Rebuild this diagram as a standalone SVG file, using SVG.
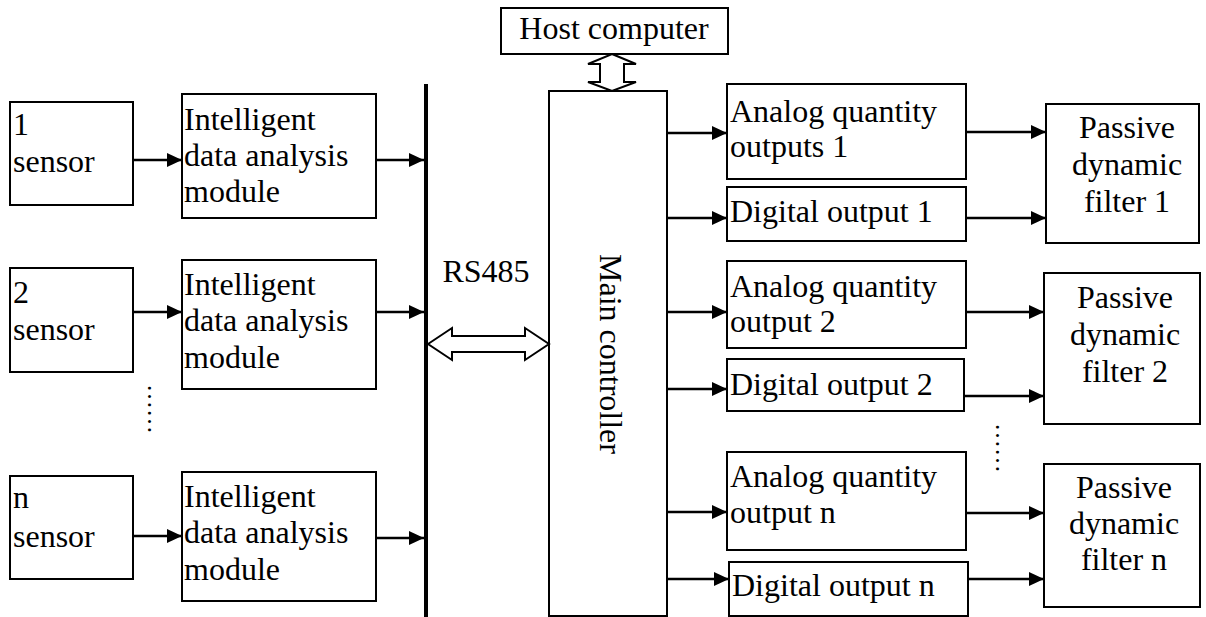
<svg xmlns="http://www.w3.org/2000/svg" width="1206" height="617" viewBox="0 0 1206 617">
<style>
.box{fill:#fff;stroke:#000;stroke-width:2}
.t{font-family:"Liberation Serif","Times New Roman",serif;font-size:32px;fill:#000}
.c{text-anchor:middle}
.ln{stroke:#000;stroke-width:2.5;fill:none;marker-end:url(#ah)}
.dbl{fill:#fff;stroke:#000;stroke-width:2}
</style>
<defs>
<marker id="ah" viewBox="0 0 15 14" refX="15" refY="7" markerWidth="15" markerHeight="14" markerUnits="userSpaceOnUse" orient="auto">
<path d="M0,0 L15,7 L0,14 z" fill="#000"/>
</marker>
</defs>
<rect width="1206" height="617" fill="#fff"/>

<g id="bus">
<line x1="426" y1="84" x2="426" y2="617" stroke="#000" stroke-width="4"/>
<text class="t c" x="486" y="282">RS485</text>
</g>

<g id="sensor1"><rect class="box" x="10" y="102" width="123" height="103"/><text class="t" x="13" y="135">1</text><text class="t" x="13" y="172">sensor</text></g>
<g id="sensor2"><rect class="box" x="10" y="268" width="123" height="104"/><text class="t" x="13" y="303">2</text><text class="t" x="13" y="340">sensor</text></g>
<g id="sensorN"><rect class="box" x="10" y="476" width="123" height="103"/><text class="t" x="13" y="508">n</text><text class="t" x="13" y="547">sensor</text></g>

<g id="module1"><rect class="box" x="182" y="94" width="194" height="124"/><text class="t" x="184" y="130">Intelligent</text><text class="t" x="184" y="166">data analysis</text><text class="t" x="184" y="202">module</text></g>
<g id="module2"><rect class="box" x="182" y="260" width="194" height="129"/><text class="t" x="184" y="295">Intelligent</text><text class="t" x="184" y="331">data analysis</text><text class="t" x="184" y="368">module</text></g>
<g id="moduleN"><rect class="box" x="182" y="472" width="194" height="129"/><text class="t" x="184" y="507">Intelligent</text><text class="t" x="184" y="543">data analysis</text><text class="t" x="184" y="580">module</text></g>

<g id="dotsLeft"><text class="t c" font-size="25" transform="translate(147.5,409) rotate(90)" style="font-size:25px">……</text></g>

<g id="host"><rect class="box" x="501" y="8" width="227" height="46"/><text class="t c" x="614" y="39">Host computer</text></g>

<g id="main"><rect class="box" x="549" y="91" width="118" height="525"/><text class="t c" transform="translate(600,354) rotate(90)">Main controller</text></g>

<g id="analog1"><rect class="box" x="727" y="84" width="239" height="95"/><text class="t" x="730" y="122">Analog quantity</text><text class="t" x="730" y="157">outputs 1</text></g>
<g id="digital1"><rect class="box" x="727" y="187" width="239" height="54"/><text class="t" x="730" y="222">Digital output 1</text></g>
<g id="analog2"><rect class="box" x="727" y="261" width="239" height="87"/><text class="t" x="730" y="297">Analog quantity</text><text class="t" x="730" y="332">output 2</text></g>
<g id="digital2"><rect class="box" x="727" y="359" width="237" height="52"/><text class="t" x="730" y="395">Digital output 2</text></g>
<g id="analogN"><rect class="box" x="727" y="452" width="239" height="98"/><text class="t" x="730" y="487">Analog quantity</text><text class="t" x="730" y="523">output n</text></g>
<g id="digitalN"><rect class="box" x="729" y="562" width="239" height="54"/><text class="t" x="732" y="596">Digital output n</text></g>

<g id="dotsRight"><text class="t c" transform="translate(995.5,448) rotate(90)" style="font-size:25px">……</text></g>

<g id="filter1"><rect class="box" x="1046" y="104" width="153" height="139"/><text class="t c" x="1127" y="138">Passive</text><text class="t c" x="1127" y="175">dynamic</text><text class="t c" x="1127" y="212">filter 1</text></g>
<g id="filter2"><rect class="box" x="1044" y="273" width="156" height="151"/><text class="t c" x="1125" y="308">Passive</text><text class="t c" x="1125" y="345">dynamic</text><text class="t c" x="1125" y="382">filter 2</text></g>
<g id="filterN"><rect class="box" x="1044" y="464" width="156" height="143"/><text class="t c" x="1124" y="498">Passive</text><text class="t c" x="1124" y="534">dynamic</text><text class="t c" x="1124" y="570">filter n</text></g>

<g id="connectors">
<polygon class="dbl" points="428,344 452,328 452,336 525,336 525,328 549,344 525,360 525,352 452,352 452,360"/>
<polygon class="dbl" points="612,54 636,64 624,64 624,82 636,82 612,91 588,82 600,82 600,64 588,64"/>
<line class="ln" x1="133" y1="160" x2="182" y2="160"/>
<line class="ln" x1="377" y1="160" x2="424" y2="160"/>
<line class="ln" x1="133" y1="312" x2="182" y2="312"/>
<line class="ln" x1="376" y1="312" x2="424" y2="312"/>
<line class="ln" x1="133" y1="536" x2="182" y2="536"/>
<line class="ln" x1="376" y1="538" x2="424" y2="538"/>
<line class="ln" x1="667" y1="133" x2="727" y2="133"/>
<line class="ln" x1="667" y1="218" x2="727" y2="218"/>
<line class="ln" x1="966" y1="132" x2="1046" y2="132"/>
<line class="ln" x1="966" y1="218" x2="1046" y2="218"/>
<line class="ln" x1="667" y1="312" x2="727" y2="312"/>
<line class="ln" x1="667" y1="389" x2="727" y2="389"/>
<line class="ln" x1="966" y1="312" x2="1044" y2="312"/>
<line class="ln" x1="964" y1="396" x2="1044" y2="396"/>
<line class="ln" x1="667" y1="512" x2="727" y2="512"/>
<line class="ln" x1="667" y1="579" x2="729" y2="579"/>
<line class="ln" x1="966" y1="513" x2="1044" y2="513"/>
<line class="ln" x1="968" y1="579" x2="1044" y2="579"/>
</g>
</svg>
